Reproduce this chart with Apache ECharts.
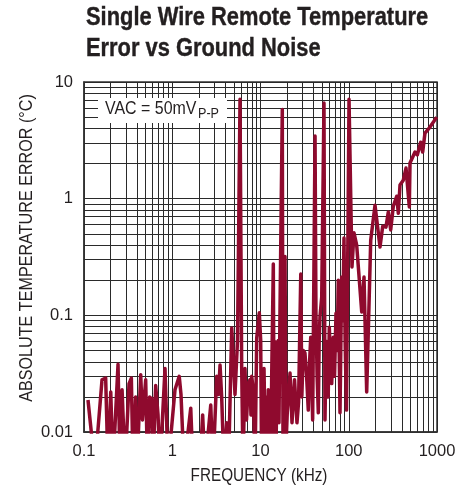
<!DOCTYPE html>
<html>
<head>
<meta charset="utf-8">
<script src="https://cdn.jsdelivr.net/npm/echarts@6/dist/echarts.min.js"></script>
<style>
html,body{margin:0;padding:0;background:#fff;}
#c{width:472px;height:492px;}
</style>
</head>
<body>
<div id="c"></div>
<script>
// Frequency (kHz) and absolute temperature error (°C); values below 0.01 run off the bottom of the plot
var freqKHz = [0.111,0.133,0.160,0.176,0.187,0.201,0.213,0.243,0.256,0.270,0.292,0.324,0.344,0.359,0.385,0.399,0.439,0.46,0.50,0.524,0.555,0.57,0.585,0.605,0.649,0.69,0.726,0.828,0.896,
1.074,1.20,1.256,1.36,1.62,1.72,2.06,2.21,2.35,2.73,2.90,3.19,3.34,3.48,3.63,3.86,4.14,4.34,4.72,4.94,5.14,5.49,5.86,6.12,6.34,6.67,6.94,7.27,7.6,7.8,7.95,8.28,8.67,9.06,9.44,9.69,
10.05,10.3,10.6,10.96,11.4,11.76,12.0,12.25,12.5,12.8,13.1,13.4,13.97,14.3,14.86,15.05,15.26,15.9,16.2,16.6,17.66,18.0,18.46,18.95,19.5,20.1,21.6,22.75,24.3,25.9,27.0,28.6,29.4,30.5,31.9,33.3,34.8,36.0,37.1,39.0,41.5,42.5,43.8,45.2,46.2,47.2,49.4,52.4,53.8,55.5,57.1,58.5,60.2,62.0,64.1,66.8,69.0,71.7,74.0,76.1,79.6,83.2,85.5,88.3,91.0,94.3,
100.7,108.8,114.7,123,140.3,148.9,159.7,177.4,198.4,226,242.6,264,280.6,298.8,319.8,349.4,364.4,380.9,415,445.5,485.6,494.5,563,598,653,688,731,833,993];
var errorC = [0.0188,0.005,0.028,0.029,0.005,0.022,0.005,0.038,0.005,0.023,0.005,0.026,0.029,0.005,0.020,0.005,0.031,0.0127,0.028,0.005,0.020,0.0127,0.0195,0.005,0.025,0.014,0.005,0.035,0.005,
0.023,0.030,0.021,0.005,0.016,0.005,0.005,0.014,0.005,0.017,0.005,0.030,0.021,0.0375,0.020,0.005,0.012,0.005,0.078,0.040,0.021,0.061,7.1,0.036,0.005,0.035,0.0127,0.026,0.028,0.014,0.030,0.023,0.005,0.064,0.065,0.105,
0.061,0.005,0.016,0.035,0.005,0.020,0.006,0.023,0.008,0.019,0.006,0.031,0.275,0.006,0.059,0.008,0.026,0.061,0.012,0.097,5.8,0.006,0.024,0.32,0.008,0.0146,0.032,0.012,0.028,0.012,0.018,0.226,0.020,0.050,0.0475,0.030,0.0154,0.040,0.065,0.0127,3.44,0.104,0.030,0.0146,0.060,0.097,0.1435,6.6,0.0127,0.060,0.0475,0.020,0.079,0.045,0.026,0.065,0.030,0.104,0.050,0.20,0.0146,0.213,0.090,0.46,0.060,0.0154,
7.1,0.26,0.51,0.40,0.107,0.213,0.022,0.44,0.88,0.385,0.58,0.57,0.77,0.54,0.86,1.05,0.75,1.31,1.44,1.83,0.85,2.02,2.51,2.37,3.05,2.51,3.65,4.11,5.0];

var xTickLabels = ['0.1','1','10','100','1000'];
var yTickLabels = ['0.01','0.1','1','10'];
var xMinorGrid = [0.2,0.3,0.4,0.5,0.6,0.7,0.8,0.9,2,3,4,5,6,7,8,9,20,30,40,50,60,70,80,90,200,300,400,500,600,700,800,900];
var yMinorGrid = [0.02,0.03,0.04,0.05,0.06,0.07,0.08,0.09,0.2,0.3,0.4,0.5,0.6,0.7,0.8,0.9,2,3,4,5,6,7,8,9];

var seriesData = freqKHz.map(function(f,i){return [f, errorC[i]];});
var FONT = '"Liberation Sans",Arial,sans-serif';
var TXT = '#231f20';
var GRIDC = '#2a2a2a';

var gridMarks = xMinorGrid.map(function(v){return {xAxis:v};}).concat(yMinorGrid.map(function(v){return {yAxis:v};}));

var chart = echarts.init(document.getElementById('c'), null, {renderer:'canvas'});
chart.setOption({
  animation:false,
  backgroundColor:'#fff',
  grid:{left:84, right:35, top:82, bottom:60, show:true, borderColor:'#333', borderWidth:1.5, backgroundColor:'transparent'},
  xAxis:{
    type:'log', logBase:10, min:0.1, max:1000,
    axisLine:{show:true, lineStyle:{color:'#333', width:1.5}},
    axisTick:{show:false},
    axisLabel:{fontFamily:FONT, fontSize:16.5, color:TXT, margin:11,
      formatter:function(v,i){return xTickLabels[i];}},
    splitLine:{show:true, lineStyle:{color:GRIDC, width:1}},
    minorTick:{show:false}, minorSplitLine:{show:false}
  },
  yAxis:{
    type:'log', logBase:10, min:0.01, max:10,
    axisLine:{show:true, lineStyle:{color:'#333', width:1.5}},
    axisTick:{show:false},
    axisLabel:{fontFamily:FONT, fontSize:16.5, color:TXT, margin:11,
      formatter:function(v,i){return yTickLabels[i];}},
    splitLine:{show:true, lineStyle:{color:GRIDC, width:1}},
    minorTick:{show:false}, minorSplitLine:{show:false}
  },
  series:[
    {
      type:'line', data:[], z:1, silent:true,
      markLine:{silent:true, symbol:'none', animation:false, label:{show:false},
        lineStyle:{color:GRIDC, width:1, type:'solid'}, emphasis:{disabled:true},
        data:gridMarks}
    },
    {
      type:'line', data:seriesData, z:5, showSymbol:false, symbol:'none', clip:true,
      lineStyle:{color:'#8f0a2e', width:3.5, join:'round'}, silent:true
    }
  ],
  graphic:[
    {type:'text', x:86, y:6, scaleX:0.875, z:11, style:{text:'Single Wire Remote Temperature', font:'bold 25px "Liberation Sans",Arial,sans-serif', fill:TXT, verticalAlign:'top', stroke:TXT, lineWidth:0.4}},
    {type:'text', x:86, y:37, scaleX:0.875, z:11, style:{text:'Error vs Ground Noise', font:'bold 25px "Liberation Sans",Arial,sans-serif', fill:TXT, verticalAlign:'top', stroke:TXT, lineWidth:0.4}},
    {type:'text', x:27, y:248, rotation:Math.PI/2, scaleX:0.85, z:11, style:{text:'ABSOLUTE TEMPERATURE ERROR (°C)', font:'19px "Liberation Sans",Arial,sans-serif', fill:TXT, align:'center', verticalAlign:'middle'}},
    {type:'text', x:259, y:476, scaleX:0.85, z:11, style:{text:'FREQUENCY (kHz)', font:'18px "Liberation Sans",Arial,sans-serif', fill:TXT, align:'center', verticalAlign:'middle'}},
    {type:'rect', x:98, y:98, z:10, shape:{width:129, height:25}, style:{fill:'#fff'}},
    {type:'text', x:105, y:99, scaleX:0.84, z:11, style:{text:'VAC = 50mV', font:'19px "Liberation Sans",Arial,sans-serif', fill:TXT, verticalAlign:'top'}},
    {type:'text', x:198, y:106, scaleX:0.84, z:11, style:{text:'P-P', font:'15px "Liberation Sans",Arial,sans-serif', fill:TXT, verticalAlign:'top'}}
  ]
});
</script>
</body>
</html>
